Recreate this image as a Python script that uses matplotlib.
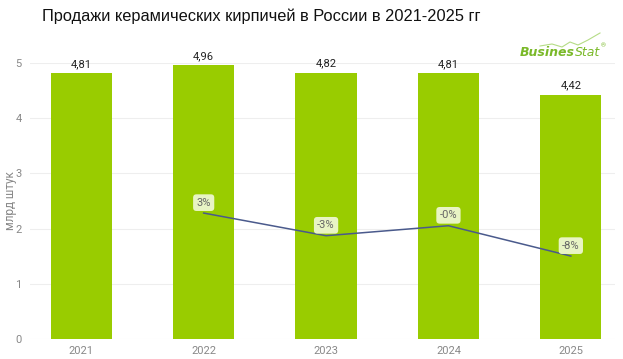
import matplotlib.pyplot as plt
import numpy as np

years = ['2021', '2022', '2023', '2024', '2025']
sales = [4.81, 4.96, 4.82, 4.81, 4.42]
growth_years = ['2022', '2023', '2024', '2025']
growth = [3.1, -2.8, -0.2, -8.1]
growth_labels = ['3%', '-3%', '-0%', '-8%']

plt.rcParams['font.family'] = ['Roboto', 'DejaVu Sans']

fig = plt.figure(figsize=(6.23, 3.59), dpi=100)
ax = fig.add_axes([0.048, 0.0557, 0.939, 0.769])

x = np.arange(len(years))
bars = ax.bar(x, sales, 0.5, color='#99cc00', zorder=2)
for xi, v in zip(x, sales):
    ax.text(xi, v + 0.08, f'{v:.2f}'.replace('.', ','), ha='center', va='bottom',
            fontsize=8, color='#222222', clip_on=False)

ax.set_xlim(-0.42, 4.36)
ax.set_ylim(0, 5)
ax.set_yticks(range(6))
ax.set_xticks(x)
ax.set_xticklabels(years)
ax.tick_params(length=0, labelsize=8, labelcolor='#888888')
ax.tick_params(axis='y', pad=6)
ax.tick_params(axis='x', pad=5)
ax.grid(axis='y', color='#eeeeee', linewidth=0.8, zorder=0)
for s in ax.spines.values():
    s.set_visible(False)
ax.set_ylabel('млрд штук', fontsize=8.5, color='#888888', va='center')
ax.yaxis.set_label_coords(-0.034, 0.5)

# growth line on hidden secondary axis
ax2 = ax.twinx()
gx = [years.index(y) for y in growth_years]
ax2.plot(gx, growth, color='#4a5a8c', linewidth=1.1, zorder=3)
ax2.set_ylim(-29.7, 42.2)
ax2.axis('off')
for xi, g, lab in zip(gx, growth, growth_labels):
    ax2.annotate(lab, (xi, g), xytext=(0, 7.5), textcoords='offset points',
                 ha='center', va='center', fontsize=8, color='#666666',
                 bbox=dict(boxstyle='round,pad=0.3,rounding_size=0.3',
                           fc='#e8f4c4', ec='none'))

fig.text(42 / 623, 1 - 16 / 359, 'Продажи керамических кирпичей в России в 2021-2025 гг',
         ha='left', va='center', fontsize=11.8, family='Liberation Sans', color='#111111')

# logo
fig.text(575 / 623, 1 - 53 / 359, 'Busines', ha='right', va='center', fontsize=9,
         fontweight='bold', style='italic', color='#7ab929', family='DejaVu Sans Condensed')
fig.text(575 / 623, 1 - 53 / 359, 'Stat', ha='left', va='center', fontsize=9,
         style='italic', color='#7ab929', family='DejaVu Sans Condensed')
fig.text(601 / 623, 1 - 46 / 359, '®', ha='left', va='center', fontsize=4.5, color='#7ab929')
lx = np.array([540, 552, 562, 570, 578, 588, 600]) / 623
ly = 1 - np.array([46, 44, 47, 42, 45, 40, 33]) / 359
fig.add_artist(plt.Line2D(lx, ly, color='#b5dc86', linewidth=0.8))

plt.savefig('out.png', dpi=100)
